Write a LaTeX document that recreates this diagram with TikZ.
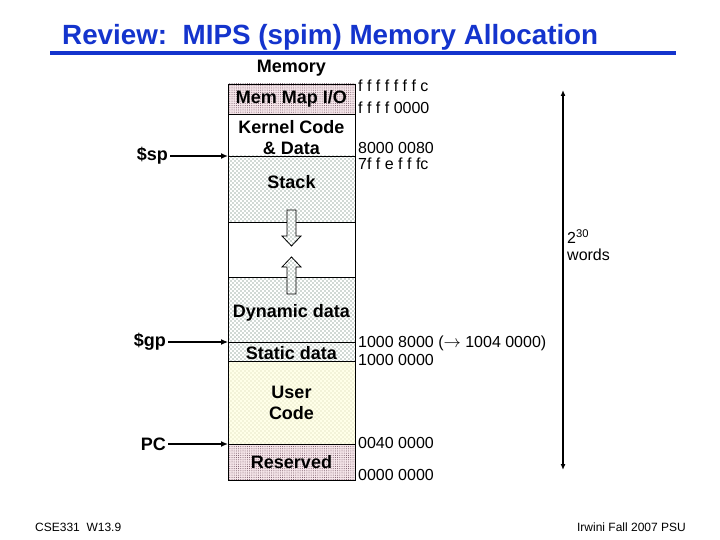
\documentclass[tikz,border=0pt]{standalone}
\usepackage{fontspec}
\setmainfont{Liberation Sans}
\usetikzlibrary{positioning,patterns,arrows.meta}

\definecolor{titleblue}{RGB}{20,52,205}
\definecolor{iobg}{RGB}{246,230,234}
\definecolor{iodot}{RGB}{110,80,95}
\definecolor{stackdot}{RGB}{60,95,75}
\definecolor{userbg}{RGB}{255,255,232}
\definecolor{userdot}{RGB}{205,205,170}

\pgfdeclarepatternformonly{sparsedots}{\pgfpoint{-1pt}{-1pt}}{\pgfpoint{5pt}{5pt}}{\pgfpoint{4pt}{4pt}}{%
  \pgfpathcircle{\pgfpoint{1pt}{1pt}}{0.6pt}
  \pgfpathcircle{\pgfpoint{3pt}{3pt}}{0.6pt}
  \pgfusepath{fill}}
\pgfdeclarepatternformonly{densedots}{\pgfpoint{-1pt}{-1pt}}{\pgfpoint{3pt}{3pt}}{\pgfpoint{2.2pt}{2.2pt}}{%
  \pgfpathcircle{\pgfpoint{1pt}{1pt}}{0.5pt}
  \pgfusepath{fill}}

\begin{document}
\begin{tikzpicture}[x=1pt, y=1pt,
    seg/.style = {draw, line width=0.8pt, minimum width=127pt, inner sep=0pt, outer sep=0pt},
    io/.style = {seg, preaction={fill=iobg}, pattern=densedots, pattern color=iodot},
    dots/.style = {seg, preaction={fill=white}, pattern=sparsedots, pattern color=stackdot},
    usr/.style = {seg, preaction={fill=userbg}, pattern=sparsedots, pattern color=userdot},
    lbl/.style = {font=\fontsize{18}{21}\selectfont\bfseries, align=center, inner sep=0pt},
    reg/.style = {font=\fontsize{18}{21}\selectfont\bfseries, inner sep=2pt},
    addr/.style = {font=\fontsize{16}{17}\selectfont, anchor=west, inner sep=0pt},
    ptr/.style = {-{Latex[length=7pt,width=6pt]}, line width=1.6pt},
    fat/.style = {draw, line width=0.8pt, preaction={fill=white}, pattern=sparsedots, pattern color=stackdot}]
    \path[fill=white, use as bounding box] (0,0) rectangle (720,-540);

    \node[font=\fontsize{27.8}{30}\selectfont\bfseries, text=titleblue, anchor=base west, inner sep=0pt] (title) at (62,-45) {Review:\ \ MIPS (spim) Memory Allocation};
    \coordinate (rulea) at (50,-53);
    \coordinate (ruleb) at (676,-53);
    \draw[titleblue, line width=4pt] (rulea) -- (ruleb);

    \node[io, minimum height=30pt] (mmio) at (291.5,-99) {};
    \node[seg, minimum height=42pt, below=0pt of mmio] (kernel) {};
    \node[dots, minimum height=66pt, below=0pt of kernel] (stack) {};
    \node[seg, minimum height=55pt, below=0pt of stack] (gap) {};
    \node[dots, minimum height=65pt, below=0pt of gap] (dyn) {};
    \node[dots, minimum height=19pt, below=0pt of dyn] (static) {};
    \node[usr, minimum height=83pt, below=0pt of static] (user) {};
    \node[io, minimum height=36pt, below=0pt of user] (res) {};

    \node[lbl] (memlbl) at ([yshift=16pt]mmio.north) {Memory};
    \node[lbl] (iolbl) at (mmio) {Mem Map I/O};
    \node[lbl] (kernlbl) at ([yshift=-3pt]kernel) {Kernel Code\\\& Data};
    \node[lbl] (stacklbl) at ([yshift=-26pt]stack.north) {Stack};
    \node[lbl] (dynlbl) at ([yshift=29pt]dyn.south) {Dynamic data};
    \node[lbl] (statlbl) at ([yshift=-2pt]static) {Static data};
    \node[lbl] (userlbl) at ([yshift=-0.5pt]user) {User\\Code};
    \node[lbl] (reslbl) at (res) {Reserved};

    \draw[fat] (287,-210) -- (296,-210) -- (296,-236) -- (301,-236) -- (291.5,-246) -- (282,-236) -- (287,-236) -- cycle;
    \draw[fat] (291.5,-257) -- (301,-267) -- (296,-267) -- (296,-294) -- (287,-294) -- (287,-267) -- (282,-267) -- cycle;

    \node[reg, left=58pt of stack.north west] (sp) {\$sp};
    \node[reg, left=60pt of static.north west] (gp) {\$gp};
    \node[reg, left=60pt of res.north west] (pc) {PC};
    \draw[ptr] (sp) -- (stack.north west);
    \draw[ptr, line width=1.1pt] (gp) -- (static.north west);
    \draw[ptr] (pc) -- (res.north west);

    \node[addr] (a1) at ([xshift=3pt,yshift=-2pt]mmio.north east) {f f f f f f f c};
    \node[addr] (a2) at ([xshift=3pt,yshift=6pt]mmio.south east) {f f f f 0000};
    \node[addr] (a3) at ([xshift=3pt,yshift=8.5pt]kernel.south east) {8000 0080};
    \node[addr] (a4) at ([xshift=3pt,yshift=-8pt]stack.north east) {7f f e f f fc};
    \node[addr] (a5) at ([xshift=3pt,yshift=-1pt]static.north east) {1000 8000 ($\rightarrow$ 1004 0000)};
    \node[addr] (a6) at ([xshift=3pt,yshift=1pt]static.south east) {1000 0000};
    \node[addr] (a7) at ([xshift=3pt,yshift=1pt]res.north east) {0040 0000};
    \node[addr] (a8) at ([xshift=3pt,yshift=5pt]res.south east) {0000 0000};

    \coordinate (top) at (563,-90);
    \coordinate (bot) at (563,-470);
    \draw[{Latex[length=6pt,width=5pt]}-{Latex[length=6pt,width=5pt]}, line width=1.8pt] (top) -- (bot);
    \node[addr, align=left] (words) at (567,-245) {2\textsuperscript{30}\\words};

    \node[font=\fontsize{12}{14}\selectfont, anchor=west, inner sep=0pt] (foot1) at (35,-527) {CSE331\ \ W13.9};
    \node[font=\fontsize{12}{14}\selectfont, anchor=east, inner sep=0pt] (foot2) at (686,-527) {Irwini Fall 2007 PSU};
\end{tikzpicture}
\end{document}
